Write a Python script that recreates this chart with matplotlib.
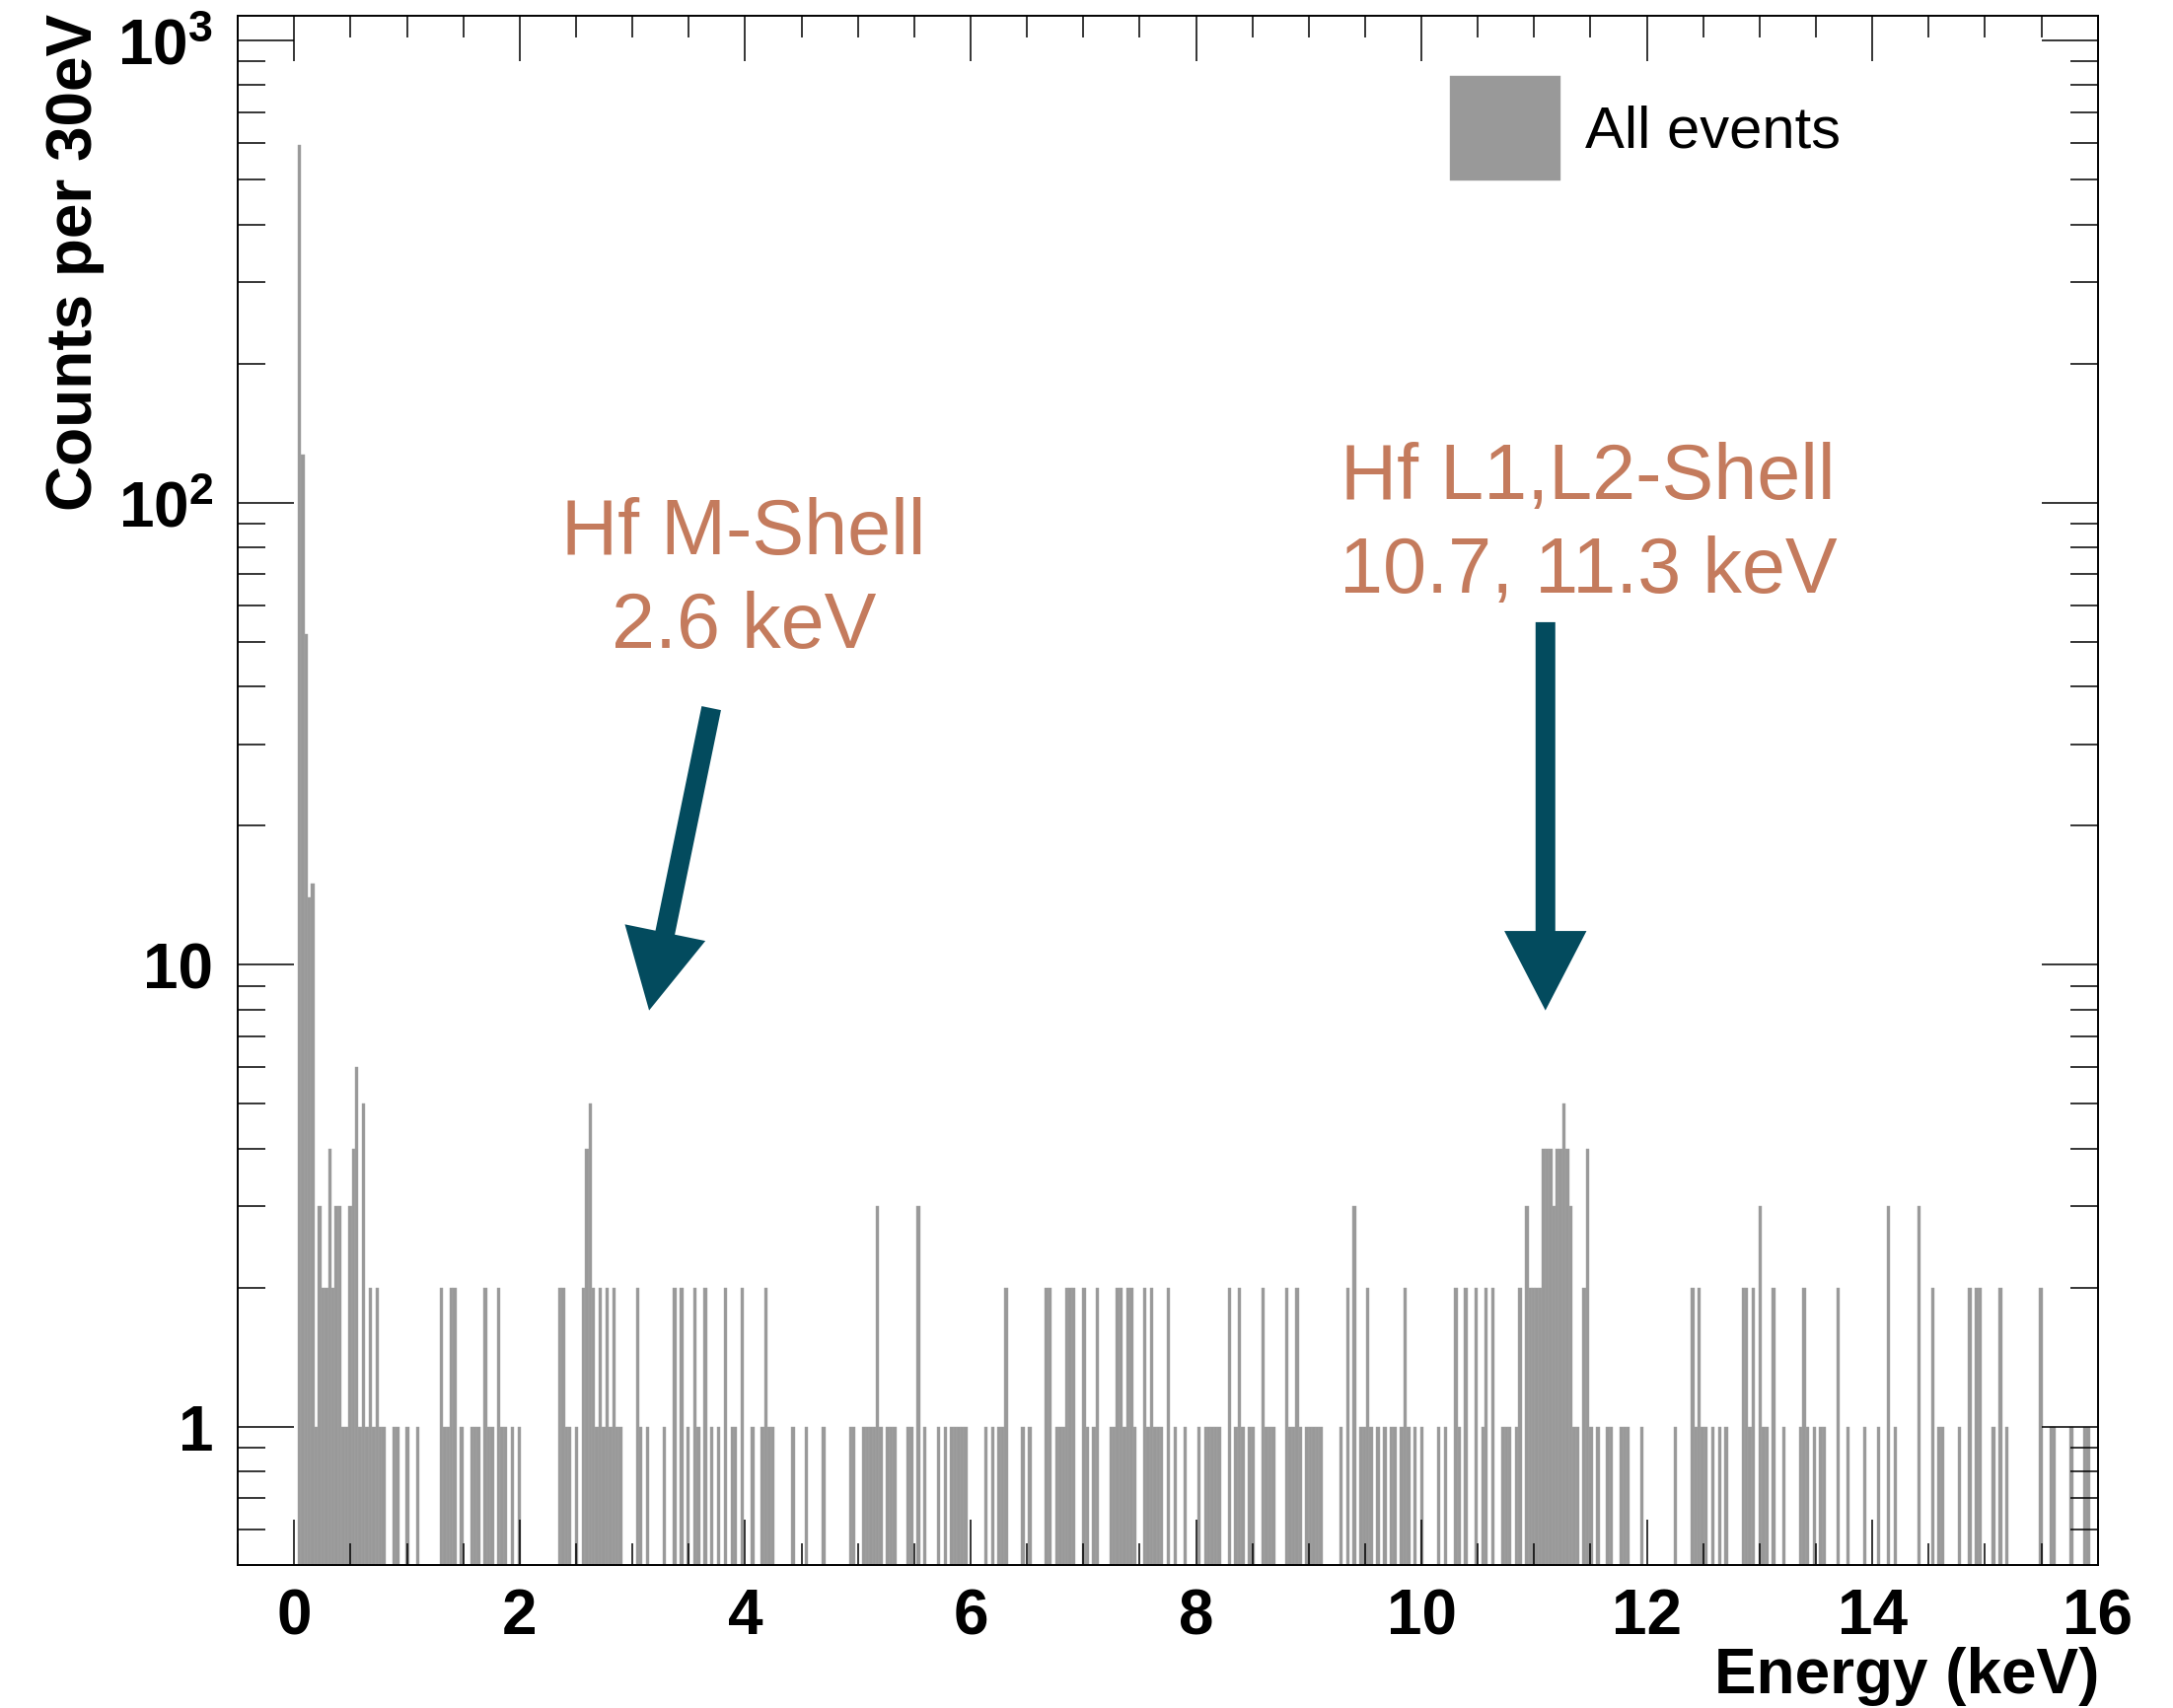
import numpy as np
import matplotlib
matplotlib.use("Agg")
import matplotlib.pyplot as plt
from matplotlib.ticker import FixedLocator, MultipleLocator, LogLocator, NullFormatter, FixedFormatter
from matplotlib.patches import FancyArrowPatch, ArrowStyle

plt.rcParams['font.family'] = ['Liberation Sans', 'DejaVu Sans']
plt.rcParams['mathtext.fontset'] = 'custom'
plt.rcParams['mathtext.rm'] = 'Liberation Sans'
plt.rcParams['mathtext.bf'] = 'Liberation Sans:bold'

# ---------------- data ----------------
bin_width_keV = 0.03
n_bins = 534
# non-empty 30 eV bins: index (bin low edge = index * 0.03 keV) and counts
bin_index = [
    1, 2, 3, 4, 5, 6, 7, 8, 9, 10, 11, 12, 13, 14, 15, 16, 17, 18, 19, 20,
    21, 22, 23, 24, 25, 26, 29, 30, 33, 36, 43, 44, 45, 46, 47, 49, 52, 53, 54, 56,
    57, 58, 60, 61, 62, 64, 66,
    78, 79, 80, 81, 83, 85, 86, 87, 88, 89, 90, 91, 92, 93, 94, 95, 96, 101, 102, 104,
    109, 112, 114, 116, 118, 119, 121, 123, 125, 127, 129, 130, 132, 135, 138, 139, 140, 141,
    147, 151, 156, 164, 165, 168, 169, 170, 171, 172, 173,
    175, 176, 177, 181, 182, 184, 186, 190, 192, 194, 195, 196, 197, 198, 204, 206, 208, 209,
    210, 215, 217, 222, 223, 225, 226, 227, 228, 229, 230, 233, 234, 236, 237, 241, 242, 243,
    244, 245, 246, 247, 248, 251, 252, 253, 254, 255, 256, 258, 260, 263, 267, 269, 270, 271,
    272, 273, 276, 278, 279, 280, 282, 283, 286, 287, 288, 289, 293, 294, 295, 296, 297, 299,
    300, 301, 302, 303, 309, 311, 313, 315, 316, 317, 318, 320, 322, 324, 325, 327, 328, 329,
    331, 333, 338, 340, 343, 344, 346, 349, 351, 352, 354, 357, 358, 359, 361, 362, 364, 365,
    366, 367, 368,
    369, 370, 371, 372, 373, 374, 375, 376, 377, 378, 379, 381, 382, 383, 385, 388, 389, 392,
    393, 394, 398, 408, 413, 414, 415, 416, 417, 419, 421, 423, 428, 429, 430, 431, 433, 434,
    435, 437, 440, 445, 446, 447, 449,
    451, 452, 456, 459, 464, 468, 471, 473, 480, 484, 486, 487, 492, 495, 497, 498, 502, 504,
    506, 516, 519, 520, 525, 529, 530,
]
bin_count = [
    594, 127, 52, 14, 15, 1, 3, 2, 2, 4, 2, 3, 3, 1, 1, 3, 4, 6, 1, 5,
    1, 2, 1, 2, 1, 1, 1, 1, 1, 1, 2, 1, 1, 2, 2, 1, 1, 1, 1, 2,
    1, 1, 2, 1, 1, 1, 1,
    2, 2, 1, 1, 1, 2, 4, 5, 2, 1, 2, 1, 2, 1, 2, 1, 1, 2, 1, 1,
    1, 2, 2, 1, 2, 1, 2, 1, 1, 2, 1, 1, 2, 1, 1, 2, 1, 1,
    1, 1, 1, 1, 1, 1, 1, 1, 1, 3, 1,
    1, 1, 1, 1, 1, 3, 1, 1, 1, 1, 1, 1, 1, 1, 1, 1, 1, 1,
    2, 1, 1, 2, 2, 1, 1, 1, 2, 2, 2, 2, 1, 1, 2, 1, 1, 2,
    2, 1, 2, 2, 1, 2, 1, 2, 1, 1, 1, 2, 1, 1, 1, 1, 1, 1,
    1, 1, 2, 1, 2, 1, 1, 1, 2, 1, 1, 1, 2, 1, 1, 2, 1, 1,
    1, 1, 1, 1, 1, 2, 3, 1, 1, 2, 1, 1, 1, 1, 1, 1, 2, 1,
    1, 1, 1, 1, 2, 1, 2, 2, 1, 2, 2, 1, 1, 1, 1, 2, 3, 2,
    2, 2, 2,
    4, 4, 4, 3, 4, 4, 5, 4, 3, 1, 1, 2, 4, 1, 1, 1, 1, 1,
    1, 1, 1, 1, 2, 1, 2, 1, 1, 1, 1, 1, 2, 2, 1, 2, 3, 1,
    1, 2, 1, 1, 2, 1, 1,
    1, 1, 2, 1, 1, 1, 3, 1, 3, 2, 1, 1, 1, 2, 2, 2, 1, 2,
    1, 2, 1, 1, 1, 1, 1,
]

x_ticks = [0, 2, 4, 6, 8, 10, 12, 14, 16]
y_ticks = [1, 10, 100, 1000]
y_tick_labels = ['1', '10', r'$\mathbf{10^{2}}$', r'$\mathbf{10^{3}}$']

legend_label = 'All events'
x_title = 'Energy (keV)'
y_title = 'Counts per 30eV'
m_shell_text = ['Hf M-Shell', '2.6 keV']
l_shell_text = ['Hf L1,L2-Shell', '10.7, 11.3 keV']
# arrows: (tail x, tail y) -> (head x, head y) in data units
m_arrow = [(3.70, 35.9), (3.148, 7.96)]
l_arrow = [(11.10, 55.1), (11.10, 7.96)]

# ---------------- figure ----------------
W, H = 2203, 1733
fig = plt.figure(figsize=(W / 100, H / 100), dpi=100)
ax_left, ax_right, ax_top, ax_bot = 241.2, 2126.7, 17.0, 1588.0
ax = fig.add_axes([ax_left / W, 1 - ax_bot / H, (ax_right - ax_left) / W, (ax_bot - ax_top) / H])

counts = np.zeros(n_bins)
counts[np.array(bin_index)] = bin_count
edges = np.arange(n_bins) * bin_width_keV
mask = counts > 0
bars = ax.bar(edges[mask], counts[mask], width=bin_width_keV, align='edge',
              color='#999999', edgecolor='#a6a6a6', linewidth=0.3, label=legend_label)

ax.set_yscale('log')
ax.set_xlim(-0.5, 16.0)
ax.set_ylim(0.502, 1131)

ax.xaxis.set_major_locator(FixedLocator(x_ticks))
ax.xaxis.set_minor_locator(MultipleLocator(0.5))
ax.yaxis.set_major_locator(FixedLocator(y_ticks))
ax.yaxis.set_major_formatter(FixedFormatter(y_tick_labels))
ax.yaxis.set_minor_locator(LogLocator(base=10, subs=np.arange(2, 10)))
ax.yaxis.set_minor_formatter(NullFormatter())

for s in ax.spines.values():
    s.set_linewidth(1.4)
ax.tick_params(axis='both', which='both', direction='in', top=True, right=True, width=1.1, color='black')
ax.tick_params(axis='x', which='major', length=33, pad=16, labelsize=46)
ax.tick_params(axis='x', which='minor', length=16)
ax.tick_params(axis='y', which='major', length=41, pad=18, labelsize=46)
ax.tick_params(axis='y', which='minor', length=20.5)
for lab in ax.get_xticklabels() + ax.get_yticklabels():
    lab.set_fontweight('bold')

fig.text(2128 / W, 1 - 1717 / H, x_title, ha='right', va='baseline', fontsize=46, fontweight='bold')
fig.text(93 / W, 1 - 14 / H, y_title, rotation=90, rotation_mode='anchor', ha='right', va='baseline',
         fontsize=46, fontweight='bold')

leg = ax.legend(handles=[bars], labels=[legend_label], loc='upper left',
                bbox_to_anchor=(1470 / W, 1 - 78 / H), bbox_transform=fig.transFigure,
                frameon=False, borderpad=0, borderaxespad=0, fontsize=43,
                handlelength=1.87, handleheight=2.355, handletextpad=0.42)

text_color = '#c47b5d'
arrow_color = '#034b5e'
fs_ann = 57
fig.text(754 / W, 1 - 562 / H, m_shell_text[0], ha='center', va='baseline', fontsize=fs_ann, color=text_color)
fig.text(754 / W, 1 - 657 / H, m_shell_text[1], ha='center', va='baseline', fontsize=fs_ann, color=text_color)
fig.text(1610 / W, 1 - 506 / H, l_shell_text[0], ha='center', va='baseline', fontsize=fs_ann, color=text_color)
fig.text(1610 / W, 1 - 601 / H, l_shell_text[1], ha='center', va='baseline', fontsize=fs_ann, color=text_color)

style = ArrowStyle.Simple(head_length=58, head_width=60, tail_width=14.4)
for (p0, p1) in (m_arrow, l_arrow):
    ar = FancyArrowPatch(p0, p1, arrowstyle=style, mutation_scale=1, color=arrow_color,
                         shrinkA=0, shrinkB=0, linewidth=0)
    ax.add_patch(ar)

fig.savefig('out.png', dpi=100)
